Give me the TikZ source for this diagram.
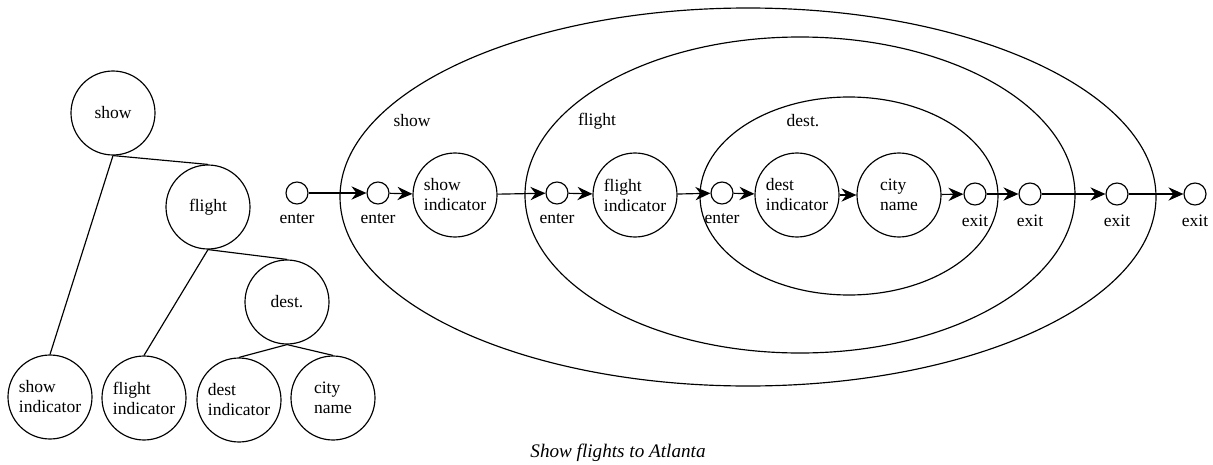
\documentclass[tikz,border=0pt]{standalone}
\usepackage{fontspec}
\setmainfont{Liberation Serif}
\usetikzlibrary{arrows.meta}
\tikzset{
  treenode/.style = {align=left, inner sep=0pt},
  bignode/.style = {treenode, circle, black, draw=black, minimum size=50.4pt},
  smallnode/.style = {circle, draw=black, inner sep=0pt, minimum size=13.2pt},
  flow/.style = {-{Stealth[length=9pt, width=8pt, inset=3pt]}},
  every label/.style = {label distance=2pt},
}

\begin{document}
\begin{tikzpicture}[x=0.6pt, y=-0.6pt, line width=0.7pt, font=\fontsize{10.5}{12}\selectfont]
  \useasboundingbox (0,0) rectangle (1213,465);

  % parse tree
  \node [bignode] (t_show) at (113,113) {show};
  \node [bignode] (t_flight) at (208,207) {flight};
  \node [bignode] (t_dest) at (287,302) {dest.};
  \node [bignode] (t_showind) at (50,397) {show\\indicator};
  \node [bignode] (t_flightind) at (144,398) {flight\\indicator};
  \node [bignode] (t_destind) at (239,400) {dest\\indicator};
  \node [bignode] (t_cityname) at (333,398) {city\\name};
  \draw (t_show.south) -- (t_showind.north);
  \draw (t_show.south) -- (t_flight.north);
  \draw (t_flight.south) -- (t_flightind.north);
  \draw (t_flight.south) -- (t_dest.north);
  \draw (t_dest.south) -- (t_destind.north);
  \draw (t_dest.south) -- (t_cityname.north);

  % nested scopes
  \draw (748,197) ellipse [x radius=408, y radius=189];
  \draw (800,195) ellipse [x radius=275, y radius=158];
  \draw (849,196) ellipse [x radius=149, y radius=99];
  \node (s_show) at (412,121) {show};
  \node (s_flight) at (597,121) {flight};
  \node (s_dest) at (803,121) {dest.};

  % transition network
  \node [smallnode, label=below:enter] (enter0) at (297,193) {};
  \node [smallnode, label=below:enter] (enter1) at (378,193) {};
  \node [bignode] (n_showind) at (455,195) {show\\indicator};
  \node [smallnode, label=below:enter] (enter2) at (557,193) {};
  \node [bignode] (n_flightind) at (635,195) {flight\\indicator};
  \node [smallnode, label=below:enter] (enter3) at (722,193) {};
  \node [bignode] (n_destind) at (797,195) {dest\\indicator};
  \node [bignode] (n_cityname) at (899,195) {city\\name};
  \node [smallnode, label=below:exit] (exit1) at (975,194) {};
  \node [smallnode, label=below:exit] (exit2) at (1030,194) {};
  \node [smallnode, label=below:exit] (exit3) at (1117,194) {};
  \node [smallnode, label=below:exit] (exit4) at (1195,194) {};
  \draw [flow] (enter0) -- (enter1);
  \draw [flow] (enter1) -- (n_showind);
  \draw [flow] (n_showind) -- (enter2);
  \draw [flow] (enter2) -- (n_flightind);
  \draw [flow] (n_flightind) -- (enter3);
  \draw [flow] (enter3) -- (n_destind);
  \draw [flow] (n_destind) -- (n_cityname);
  \draw [flow] (n_cityname) -- (exit1);
  \draw [flow] (exit1) -- (exit2);
  \draw [flow] (exit2) -- (exit3);
  \draw [flow] (exit3) -- (exit4);

  \node (caption) at (618,453) {\fontsize{11.5}{13}\selectfont\itshape Show flights to Atlanta};
\end{tikzpicture}
\end{document}
